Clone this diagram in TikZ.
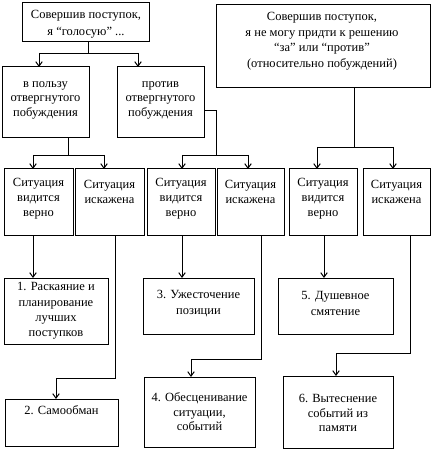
\documentclass[tikz,border=0pt]{standalone}
\usepackage{fontspec}
\setmainfont{Liberation Serif}
\usetikzlibrary{arrows.meta}
\newcommand\bx[5]{\node[box,anchor=north west,minimum width={#4-#2},minimum height={#5-#3}] (#1) at (#2,#3) {};}
\begin{document}
\begin{tikzpicture}[x=1pt,y=-1pt,
  box/.style={draw,line width=1pt,inner sep=0pt,outer sep=0pt},
  txt/.style={align=center,inner sep=0pt,font=\fontsize{12.5}{14.5}\selectfont},
  conn/.style={line width=0.9pt},
  arr/.style={conn,-{Straight Barb[length=4.5pt,width=6.5pt,line width=1pt]}}]
\useasboundingbox (0,0) rectangle (434,454);
% boxes
\bx{A}{22}{3}{149}{42}
\bx{B1}{2}{67}{89}{138}
\bx{B2}{117}{67}{204}{138}
\bx{C}{216}{5}{430}{88}
\bx{D1}{4}{169}{73}{235}
\bx{D2}{75}{169}{144}{235}
\bx{D3}{147}{169}{215}{235}
\bx{D4}{217}{169}{284}{235}
\bx{D5}{289}{169}{357}{235}
\bx{D6}{363}{169}{430}{235}
\bx{E1}{4}{278}{108}{344}
\bx{E3}{143}{278}{254}{334}
\bx{E5}{278}{278}{393}{334}
\bx{E2}{5}{399}{118}{446}
\bx{E4}{144}{377}{255}{447}
\bx{E6}{283}{376}{393}{448}
% texts
\node[txt,font=\fontsize{12.5}{17}\selectfont] (At) at (86,24) {Совершив поступок,\\я “голосую” ...};
\node[txt] (B1t) at (45.5,100) {в пользу\\отвергнутого\\побуждения};
\node[txt] (B2t) at (160.5,100) {против\\отвергнутого\\побуждения};
\node[txt,font=\fontsize{12.5}{15.5}\selectfont] (Ct) at (322,41) {Совершив поступок,\\я не могу придти к решению\\“за” или “против”\\(относительно побуждений)};
\node[txt,font=\fontsize{12.5}{15}\selectfont] (D1t) at (38.5,199) {Ситуация\\видится\\верно};
\node[txt,font=\fontsize{12.5}{15}\selectfont] (D2t) at (109.5,191.5) {Ситуация\\искажена};
\node[txt,font=\fontsize{12.5}{15}\selectfont] (D3t) at (181,199) {Ситуация\\видится\\верно};
\node[txt,font=\fontsize{12.5}{15}\selectfont] (D4t) at (250.5,191.5) {Ситуация\\искажена};
\node[txt,font=\fontsize{12.5}{15}\selectfont] (D5t) at (323,199) {Ситуация\\видится\\верно};
\node[txt,font=\fontsize{12.5}{15}\selectfont] (D6t) at (396.5,191.5) {Ситуация\\искажена};
\node[txt,font=\fontsize{12.5}{15.3}\selectfont] (E1t) at (56,311) {1. Раскаяние и\\планирование\\лучших\\поступков};
\node[txt,font=\fontsize{12.5}{16}\selectfont] (E3t) at (198.5,304) {3. Ужесточение\\позиции};
\node[txt,font=\fontsize{12.5}{16}\selectfont] (E5t) at (335.5,303) {5. Душевное\\смятение};
\node[txt] (E2t) at (61.5,410) {2. Самообман};
\node[txt] (E4t) at (199.5,412) {4. Обесценивание\\ситуации,\\событий};
\node[txt] (E6t) at (338,413) {6. Вытеснение\\событий из\\памяти};
% junction coordinates
\coordinate (jA) at (88,53);
\coordinate (jA1) at (39,53);
\coordinate (jA2) at (138,53);
\coordinate (jB1) at (68,155);
\coordinate (jB1a) at (33,155);
\coordinate (jB1b) at (104,155);
\coordinate (jB2s) at (216,110);
\coordinate (jB2) at (216,155);
\coordinate (jB2a) at (182,155);
\coordinate (jB2b) at (248,155);
\coordinate (jC) at (354,147);
\coordinate (jCa) at (317,147);
\coordinate (jCb) at (393,147);
\coordinate (x1) at (33,0);
\coordinate (x3) at (182,0);
\coordinate (x5) at (324,0);
\coordinate (k2) at (115,378);
\coordinate (k2b) at (56,378);
\coordinate (k4) at (261,359);
\coordinate (k4b) at (191,359);
\coordinate (k6) at (410,353);
\coordinate (k6b) at (336,353);
% connectors
\draw[conn] (A.south -| jA) -- (jA);
\draw[conn] (jA1) -- (jA2);
\draw[arr] (jA1) -- (B1.north -| jA1);
\draw[arr] (jA2) -- (B2.north -| jA2);
\draw[conn] (B1.south -| jB1) -- (jB1);
\draw[conn] (jB1a) -- (jB1b);
\draw[arr] (jB1a) -- (D1.north -| jB1a);
\draw[arr] (jB1b) -- (D2.north -| jB1b);
\draw[conn] (B2.east |- jB2s) -- (jB2s) -- (jB2);
\draw[conn] (jB2a) -- (jB2b);
\draw[arr] (jB2a) -- (D3.north -| jB2a);
\draw[arr] (jB2b) -- (D4.north -| jB2b);
\draw[conn] (C.south -| jC) -- (jC);
\draw[conn] (jCa) -- (jCb);
\draw[arr] (jCa) -- (D5.north -| jCa);
\draw[arr] (jCb) -- (D6.north -| jCb);
\draw[arr] (D1.south -| x1) -- (E1.north -| x1);
\draw[arr] (D3.south -| x3) -- (E3.north -| x3);
\draw[arr] (D5.south -| x5) -- (E5.north -| x5);
\draw[arr] (D2.south -| k2) -- (k2) -- (k2b) -- (E2.north -| k2b);
\draw[arr] (D4.south -| k4) -- (k4) -- (k4b) -- (E4.north -| k4b);
\draw[arr] (D6.south -| k6) -- (k6) -- (k6b) -- (E6.north -| k6b);
\end{tikzpicture}
\end{document}
